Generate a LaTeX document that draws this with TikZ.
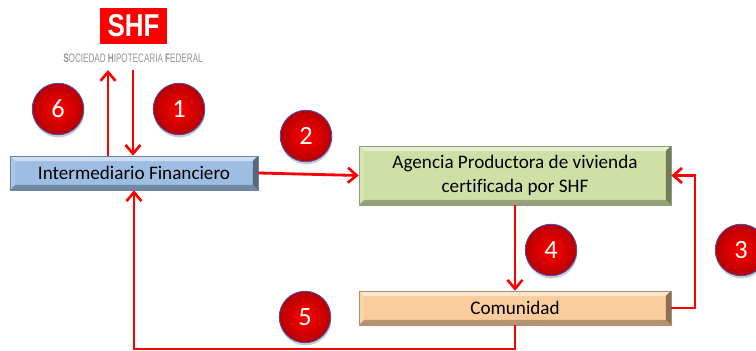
\documentclass[tikz,border=0pt]{standalone}
\usepackage{fontspec}
\setmainfont[Ligatures=NoCommon]{Carlito}
\newfontfamily\logofont{Liberation Sans}
\usetikzlibrary{arrows.meta,shadows}
\definecolor{finblue}{HTML}{9DBDE3}
\definecolor{agegreen}{HTML}{CFE0A6}
\definecolor{comorange}{HTML}{FBCC9C}
\definecolor{logored}{HTML}{FF0000}
\tikzset{
  bevelbox/.style={
    draw=#1!70!black, line width=0.3pt, fill=#1, inner sep=0pt, font=\fontsize{10.9}{13.6}\selectfont,
    align=center, text=black,
    path picture={
      \fill[#1!50!white] (path picture bounding box.north west) -- (path picture bounding box.north east)
        -- ([shift={(-5,5)}]path picture bounding box.north east) -- ([shift={(5,5)}]path picture bounding box.north west) -- cycle;
      \fill[#1!85!white] (path picture bounding box.north west) -- (path picture bounding box.south west)
        -- ([shift={(5,-5)}]path picture bounding box.south west) -- ([shift={(5,5)}]path picture bounding box.north west) -- cycle;
      \fill[#1!55!black] (path picture bounding box.north east) -- (path picture bounding box.south east)
        -- ([shift={(-5,-5)}]path picture bounding box.south east) -- ([shift={(-5,5)}]path picture bounding box.north east) -- cycle;
      \fill[#1!72!black] (path picture bounding box.south west) -- (path picture bounding box.south east)
        -- ([shift={(-5,-5)}]path picture bounding box.south east) -- ([shift={(5,-5)}]path picture bounding box.south west) -- cycle;
    }},
  numdisc/.style={
    circle, minimum size=1.03cm, inner sep=0pt, draw=blue!40!gray, line width=0.5pt,
    inner color=logored, middle color=logored, outer color=logored!72!black, text=white,
    font=\fontsize{15}{15}\selectfont, drop shadow={shadow xshift=0.3pt, shadow yshift=-1.5pt, fill=black!40}},
  flecha/.style={draw=logored, line width=1.6pt, -{Straight Barb[length=5pt,width=8.5pt,line width=1.5pt]}}
}
\begin{document}
\begin{tikzpicture}[x=0.02cm,y=-0.02cm]
  \clip (0,0) rectangle (756,351);
  % logo
  \node[fill=logored, minimum width=1.34cm, minimum height=0.72cm, inner sep=0pt] (logo) at (133.5,26)
    {\scalebox{0.82}[1]{\logofont\bfseries\fontsize{18}{18}\selectfont\textcolor{white}{SHF}}};
  \node[inner sep=0pt, text=black!42] (sociedad) at (133,58)
    {\scalebox{0.66}[1]{\logofont\fontsize{7}{7}\selectfont\textbf{S}OCIEDAD \textbf{H}IPOTECARIA \textbf{F}EDERAL}};
  % boxes
  \node[bevelbox=finblue, minimum width=4.96cm, minimum height=0.68cm] (intermediario) at (134,173) {Intermediario Financiero};
  \node[bevelbox=agegreen, minimum width=6.24cm, minimum height=1.18cm] (agencia) at (515,175.5) {Agencia Productora de vivienda\\certificada por SHF};
  \node[bevelbox=comorange, minimum width=6.24cm, minimum height=0.68cm] (comunidad) at (515,308) {Comunidad};
  % numbers
  \node[numdisc] (n6) at (58,109) {6};
  \node[numdisc] (n1) at (179,109) {1};
  \node[numdisc] (n2) at (306,136) {2};
  \node[numdisc] (n4) at (551,250) {4};
  \node[numdisc] (n3) at (741,250) {3};
  \node[numdisc] (n5) at (305,317) {5};
  % free ends
  \coordinate (sube) at (108,70);
  \coordinate (baja) at (133,70);
  \coordinate (esquina) at (695,308);
  \coordinate (fondo) at (515,349);
  % arrows
  \draw[flecha] (intermediario.north -| sube) -- (sube);
  \draw[flecha] (baja) -- (intermediario.north -| baja);
  \draw[flecha] (intermediario.east) -- (agencia.west);
  \draw[flecha] (agencia.south) -- (comunidad.north);
  \draw[flecha] (comunidad.east) -- (esquina) |- (agencia.east);
  \draw[flecha] (comunidad.south) -- (fondo) -| (intermediario.south);
\end{tikzpicture}
\end{document}
